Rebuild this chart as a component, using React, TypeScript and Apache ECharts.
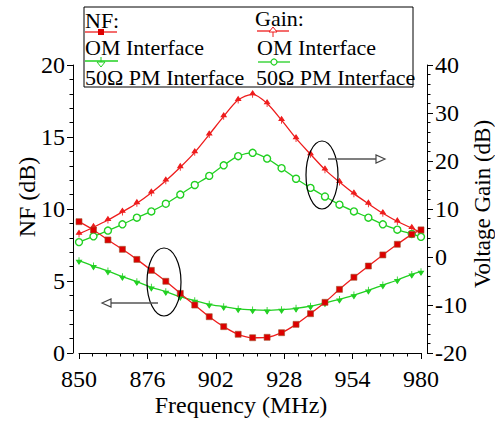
import React, { useEffect, useRef } from "react";
import * as echarts from "echarts";

const freqs = [850, 855.5, 861, 866.5, 872, 877.5, 883, 888.5, 894, 899.5, 905, 910.5, 916, 921.5, 927, 932.5, 938, 943.5, 949, 954.5, 960, 965.5, 971, 976.5, 980];
const nfOM = [9.12, 8.54, 7.85, 7.2, 6.5, 5.74, 4.98, 4.14, 3.33, 2.52, 1.83, 1.3, 1.06, 1.09, 1.41, 1.99, 2.73, 3.52, 4.42, 5.26, 6.04, 6.81, 7.55, 8.24, 8.55];
const nfPM = [6.41, 6.04, 5.69, 5.3, 4.95, 4.56, 4.26, 3.91, 3.63, 3.38, 3.22, 3.06, 2.99, 2.96, 3.01, 3.1, 3.25, 3.48, 3.72, 4.02, 4.35, 4.72, 5.07, 5.46, 5.65];
const gainOM = [4.8, 6.2, 7.7, 9.4, 11.2, 13.4, 15.9, 18.7, 21.8, 25.5, 29.3, 32.7, 33.9, 32.0, 28.5, 24.7, 21.4, 18.2, 15.6, 13.2, 11.1, 9.1, 7.4, 6.0, 5.1];
const gainPM = [3.1, 4.3, 5.5, 6.8, 8.2, 9.5, 11.1, 13.0, 15.0, 16.9, 19.1, 21.0, 21.7, 20.5, 18.5, 16.3, 14.4, 12.6, 10.9, 9.5, 8.2, 6.8, 5.7, 4.8, 4.2];

const xTitle = "Frequency (MHz)";
const yLeftTitle = "NF (dB)";
const yRightTitle = "Voltage Gain (dB)";
const legendNF = "NF:";
const legendGain = "Gain:";
const labelOM = "OM Interface";
const labelPM = "50Ω PM Interface";

const RED = "#ee1c1c";
const GREEN = "#22d022";
const FONT = "Liberation Serif";

const pairs = (ys: number[]) => freqs.map((f, i) => [f, ys[i]]);

const downArrow = "path://M0,0 L0,5 M-4,5 L4,5 L0,11 Z";
const upArrow = "path://M0,0 L4,6 L-4,6 Z M0,6 L0,11";

export default function App() {
  const ref = useRef<HTMLDivElement>(null);
  useEffect(() => {
    if (!ref.current) return;
    const chart = echarts.init(ref.current, undefined, { renderer: "svg" });
    const axisCommon = {
      axisLine: { show: true, lineStyle: { color: "#000", width: 1 } },
      axisTick: { show: true, length: 6, lineStyle: { color: "#000" } },
      minorTick: { show: true, splitNumber: 5, length: 3.5, lineStyle: { color: "#000" } },
      splitLine: { show: false },
      axisLabel: { color: "#000", fontFamily: FONT, fontSize: 24, margin: 8 },
    };
    const textStyle = (text: string, size = 22, extra: any = {}) => ({
      text,
      fill: "#000",
      fontFamily: FONT,
      fontSize: size,
      verticalAlign: "middle",
      ...extra,
    });
    chart.setOption({
      animation: false,
      backgroundColor: "#fff",
      textStyle: { fontFamily: FONT },
      grid: { left: 79, right: 74, top: 65, bottom: 68, containLabel: false },
      xAxis: {
        type: "value",
        min: 850,
        max: 980,
        interval: 26,
        offset: 5,
        ...axisCommon,
        axisLabel: { ...axisCommon.axisLabel, margin: 9 },
      },
      yAxis: [
        {
          type: "value",
          position: "left",
          min: 0,
          max: 20,
          interval: 5,
          offset: 6,
          ...axisCommon,
        },
        {
          type: "value",
          position: "right",
          min: -20,
          max: 40,
          interval: 10,
          offset: 6,
          ...axisCommon,
        },
      ],
      series: [
        {
          name: "NF OM",
          type: "line",
          yAxisIndex: 0,
          data: pairs(nfOM),
          smooth: 0.3,
          symbol: "rect",
          symbolSize: 6,
          lineStyle: { color: RED, width: 1.3 },
          itemStyle: { color: "#dd0000", borderColor: "#a0522d", borderWidth: 0.6 },
          z: 3,
        },
        {
          name: "NF PM",
          type: "line",
          yAxisIndex: 0,
          data: pairs(nfPM),
          smooth: 0.3,
          symbol: downArrow,
          symbolSize: [5, 7],
          lineStyle: { color: GREEN, width: 1.3 },
          itemStyle: { color: GREEN, borderColor: GREEN, borderWidth: 1 },
          z: 2,
        },
        {
          name: "Gain OM",
          type: "line",
          yAxisIndex: 1,
          data: pairs(gainOM),
          smooth: 0.3,
          symbol: upArrow,
          symbolSize: [5, 7],
          lineStyle: { color: RED, width: 1.3 },
          itemStyle: { color: RED, borderColor: RED, borderWidth: 1 },
          z: 2,
        },
        {
          name: "Gain PM",
          type: "line",
          yAxisIndex: 1,
          data: pairs(gainPM),
          smooth: 0.3,
          symbol: "circle",
          symbolSize: 7,
          lineStyle: { color: GREEN, width: 1.3 },
          itemStyle: { color: "#fff", borderColor: GREEN, borderWidth: 1.4 },
          z: 2,
        },
      ],
      graphic: [
        // axis titles
        { type: "text", x: 27, y: 197, rotation: Math.PI / 2, style: textStyle(yLeftTitle, 24, { align: "center" }) },
        { type: "text", x: 482, y: 204, rotation: Math.PI / 2, style: textStyle(yRightTitle, 23, { align: "center" }) },
        { type: "text", x: 241, y: 405, style: textStyle(xTitle, 24, { align: "center" }) },
        // annotation ellipses and arrows
        { type: "ellipse", shape: { cx: 164, cy: 282, rx: 17, ry: 34 }, style: { fill: "none", stroke: "#000", lineWidth: 1.2 }, z: 10 },
        { type: "line", shape: { x1: 158, y1: 303, x2: 110, y2: 303 }, style: { stroke: "#555", lineWidth: 1.5 }, z: 10 },
        { type: "polygon", shape: { points: [[102, 303], [111, 299], [111, 307]] }, style: { fill: "#fff", stroke: "#444", lineWidth: 1.2 }, z: 10 },
        { type: "ellipse", shape: { cx: 322, cy: 175, rx: 16, ry: 34 }, style: { fill: "none", stroke: "#000", lineWidth: 1.2 }, z: 10 },
        { type: "line", shape: { x1: 328, y1: 159, x2: 377, y2: 159 }, style: { stroke: "#555", lineWidth: 1.5 }, z: 10 },
        { type: "polygon", shape: { points: [[385, 159], [376, 155], [376, 163]] }, style: { fill: "#fff", stroke: "#444", lineWidth: 1.2 }, z: 10 },
        // legend box
        { type: "rect", shape: { x: 84, y: 7, width: 329, height: 80 }, style: { fill: "#fff", stroke: "#000", lineWidth: 1 }, z: 20 },
        { type: "text", x: 85, y: 20, style: textStyle(legendNF), z: 21 },
        { type: "text", x: 85, y: 47, style: textStyle(labelOM), z: 21 },
        { type: "text", x: 85, y: 77, style: textStyle(labelPM), z: 21 },
        { type: "text", x: 255, y: 18, style: textStyle(legendGain), z: 21 },
        { type: "text", x: 257, y: 47, style: textStyle(labelOM), z: 21 },
        { type: "text", x: 256, y: 77, style: textStyle(labelPM), z: 21 },
        // legend samples
        { type: "line", shape: { x1: 85, y1: 32, x2: 117, y2: 32 }, style: { stroke: RED, lineWidth: 1.3 }, z: 21 },
        { type: "rect", shape: { x: 98, y: 29, width: 6, height: 6 }, style: { fill: "#dd0000" }, z: 22 },
        { type: "line", shape: { x1: 85, y1: 61, x2: 118, y2: 61 }, style: { stroke: GREEN, lineWidth: 1.3 }, z: 21 },
        { type: "line", shape: { x1: 101, y1: 57, x2: 101, y2: 62 }, style: { stroke: GREEN, lineWidth: 1 }, z: 22 },
        { type: "polygon", shape: { points: [[97, 62], [105, 62], [101, 67]] }, style: { fill: "#fff", stroke: GREEN, lineWidth: 1 }, z: 22 },
        { type: "line", shape: { x1: 257, y1: 31, x2: 289, y2: 31 }, style: { stroke: RED, lineWidth: 1.3 }, z: 21 },
        { type: "polygon", shape: { points: [[273, 27], [269, 32], [277, 32]] }, style: { fill: "#fff", stroke: RED, lineWidth: 1 }, z: 22 },
        { type: "line", shape: { x1: 273, y1: 32, x2: 273, y2: 37 }, style: { stroke: RED, lineWidth: 1 }, z: 22 },
        { type: "line", shape: { x1: 258, y1: 62, x2: 290, y2: 62 }, style: { stroke: GREEN, lineWidth: 1.3 }, z: 21 },
        { type: "circle", shape: { cx: 274, cy: 62, r: 3 }, style: { fill: "#fff", stroke: GREEN, lineWidth: 1.2 }, z: 22 },
      ],
    });
    return () => chart.dispose();
  }, []);
  return (
    <div
      ref={ref}
      style={{ position: "absolute", left: 0, top: 0, width: 495, height: 421 }}
    />
  );
}
